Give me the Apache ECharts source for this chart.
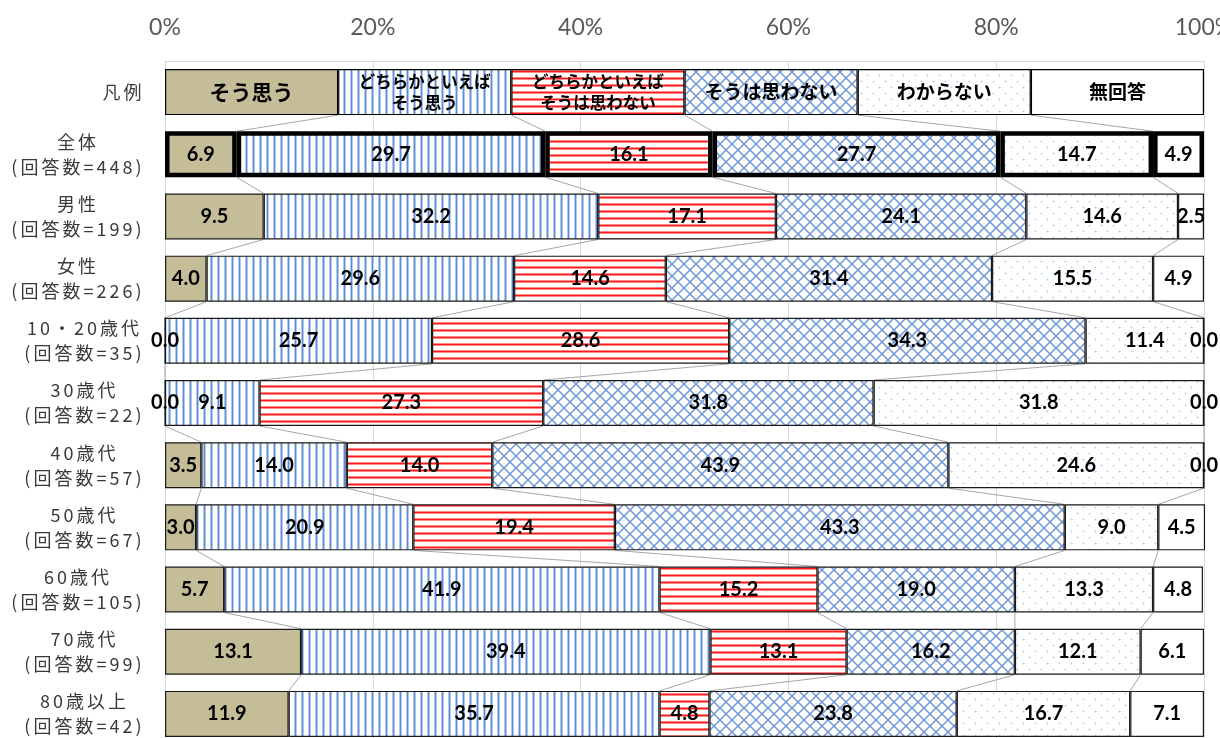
<!DOCTYPE html>
<html>
<head>
<meta charset="utf-8">
<script src="https://cdn.jsdelivr.net/npm/echarts@6/dist/echarts.min.js"></script>
<style>
  html, body { margin: 0; padding: 0; background: #fff; }
  #chart { width: 1220px; height: 738px; }
</style>
</head>
<body>
<div id="chart"></div>
<script>
// Row labels (top to bottom); the first row is the legend row.
const categories = [
  '凡例',
  '全体\n(回答数=448)',
  '男性\n(回答数=199)',
  '女性\n(回答数=226)',
  '10・20歳代\n(回答数=35)',
  '30歳代\n(回答数=22)',
  '40歳代\n(回答数=57)',
  '50歳代\n(回答数=67)',
  '60歳代\n(回答数=105)',
  '70歳代\n(回答数=99)',
  '80歳以上\n(回答数=42)'
];

const seriesNames = [
  'そう思う',
  'どちらかといえばそう思う',
  'どちらかといえばそうは思わない',
  'そうは思わない',
  'わからない',
  '無回答'
];

// Percentages per answer, for 全体 … 80歳以上
const agree            = [6.9, 9.5, 4.0, 0.0, 0.0, 3.5, 3.0, 5.7, 13.1, 11.9];
const somewhatAgree    = [29.7, 32.2, 29.6, 25.7, 9.1, 14.0, 20.9, 41.9, 39.4, 35.7];
const somewhatDisagree = [16.1, 17.1, 14.6, 28.6, 27.3, 14.0, 19.4, 15.2, 13.1, 4.8];
const disagree         = [27.7, 24.1, 31.4, 34.3, 31.8, 43.9, 43.3, 19.0, 16.2, 23.8];
const dontKnow         = [14.7, 14.6, 15.5, 11.4, 31.8, 24.6, 9.0, 13.3, 12.1, 16.7];
const noAnswer         = [4.9, 2.5, 4.9, 0.0, 0.0, 0.0, 4.5, 4.8, 6.1, 7.1];

const xTicks = [0, 20, 40, 60, 80, 100];

const seriesValues = [agree, somewhatAgree, somewhatDisagree, disagree, dontKnow, noAnswer];

// The legend row splits the axis evenly between the six answers.
const legendCell = 100 / seriesNames.length;

const BAR = 46;
const NUM_FONT = 'Lato, "Noto Sans CJK JP", sans-serif';
const JP_FONT = '"Noto Sans CJK JP", sans-serif';

function pattern(w, h, draw) {
  const c = document.createElement('canvas');
  c.width = w; c.height = h;
  const ctx = c.getContext('2d');
  ctx.fillStyle = '#ffffff';
  ctx.fillRect(0, 0, w, h);
  draw(ctx);
  return { image: c, repeat: 'repeat' };
}

const fills = [
  '#C4BD97',
  // vertical blue stripes
  pattern(7, 8, ctx => {
    ctx.fillStyle = '#B3CAEC'; ctx.fillRect(0, 0, 1, 8); ctx.fillRect(2, 0, 1, 8);
    ctx.fillStyle = '#5D8CD3'; ctx.fillRect(1, 0, 1, 8);
  }),
  // horizontal red stripes
  pattern(8, 7, ctx => {
    ctx.fillStyle = '#FF8A8A'; ctx.fillRect(0, 0, 8, 1); ctx.fillRect(0, 2, 8, 1);
    ctx.fillStyle = '#FF1A1A'; ctx.fillRect(0, 1, 8, 1);
  }),
  // blue diagonal lattice
  pattern(12, 12, ctx => {
    ctx.strokeStyle = '#6F96D5';
    ctx.lineWidth = 1.5;
    ctx.beginPath();
    ctx.moveTo(-1, -1); ctx.lineTo(13, 13);
    ctx.moveTo(13, -1); ctx.lineTo(-1, 13);
    ctx.stroke();
  }),
  // light blue dots
  pattern(12, 12, ctx => {
    ctx.fillStyle = '#DCEBF7';
    ctx.fillRect(2, 3, 3, 1); ctx.fillRect(3, 2, 1, 3);
    ctx.fillRect(8, 9, 3, 1); ctx.fillRect(9, 8, 1, 3);
    ctx.fillStyle = '#A8D0EE';
    ctx.fillRect(3, 3, 1, 1); ctx.fillRect(9, 9, 1, 1);
  }),
  '#ffffff'
];

// Legend-row caption style per answer
function legendLabel(name) {
  const twoLine = name.startsWith('どちらかといえば') && name.length > 8;
  return {
    formatter: twoLine ? name.replace('どちらかといえば', 'どちらかといえば\n') : name,
    fontFamily: JP_FONT,
    fontWeight: 'bold',
    fontSize: twoLine ? 16.5 : (name === 'そう思う' ? 21 : 19),
    lineHeight: twoLine ? 21 : 24,
    color: '#000'
  };
}

const barSeries = seriesNames.map((name, s) => ({
  name,
  type: 'bar',
  stack: 'total',
  barWidth: BAR,
  clip: false,
  z: 3,
  itemStyle: { color: fills[s], borderColor: '#1a1a1a', borderWidth: 1.2 },
  label: {
    show: true,
    position: 'inside',
    color: '#000',
    fontFamily: NUM_FONT,
    fontWeight: 'bold',
    fontSize: 20,
    formatter: p => Number(p.value).toFixed(1)
  },
  data: [
    { value: legendCell, label: legendLabel(name), itemStyle: { borderColor: '#000', borderWidth: 1.2 } },
    ...seriesValues[s].map((v, i) => i === 0
      ? { value: v, itemStyle: { borderColor: '#000', borderWidth: 4.5 } }
      : v)
  ]
}));

// Series lines joining the segment boundaries of neighbouring rows
function rowShares(r) {
  return r === 0 ? seriesNames.map(() => legendCell) : seriesValues.map(arr => arr[r - 1]);
}
function cumulative(r) {
  let acc = 0;
  return rowShares(r).map(v => (acc += v));
}
const joinData = [];
for (let r = 0; r < categories.length - 1; r++) {
  const a = cumulative(r), b = cumulative(r + 1);
  for (let k = 0; k < seriesNames.length - 1; k++) joinData.push([a[k], r, b[k]]);
}

const joinSeries = {
  type: 'custom',
  z: 1,
  silent: true,
  encode: { x: 0, y: 1 },
  data: joinData,
  renderItem: (params, api) => {
    const r = api.value(1);
    const p1 = api.coord([api.value(0), r]);
    const p2 = api.coord([api.value(2), r + 1]);
    return {
      type: 'line',
      shape: { x1: p1[0], y1: p1[1] + BAR / 2, x2: p2[0], y2: p2[1] - BAR / 2 },
      style: { stroke: '#A6A6A6', lineWidth: 1 }
    };
  }
};

const chart = echarts.init(document.getElementById('chart'));
chart.setOption({
  animation: false,
  backgroundColor: '#fff',
  grid: { left: 165, right: 16, top: 61, height: 684, outerBoundsMode: 'none', containLabel: false },
  xAxis: {
    type: 'value',
    position: 'top',
    min: xTicks[0],
    max: xTicks[xTicks.length - 1],
    interval: xTicks[1] - xTicks[0],
    axisLine: { show: true, lineStyle: { color: '#D9D9D9', width: 1 } },
    axisTick: { show: false },
    splitLine: { show: true, lineStyle: { color: '#D9D9D9', width: 1 } },
    axisLabel: {
      formatter: '{value}%',
      color: '#595959',
      fontFamily: NUM_FONT,
      fontSize: 23,
      margin: 22
    }
  },
  yAxis: {
    type: 'category',
    inverse: true,
    data: categories,
    axisLine: { show: true, lineStyle: { color: '#D9D9D9', width: 1 } },
    axisTick: { show: false },
    axisLabel: {
      align: 'right',
      margin: 22,
      formatter: v => v.split('\n')
        .map(line => Array.from(line).map(ch => '{c|' + ch + '}').join(''))
        .join('\n'),
      rich: {
        c: {
          fontFamily: JP_FONT,
          fontSize: 18,
          color: '#3A3A3A',
          padding: [0, 1.5, 0, 1.5],
          lineHeight: 25,
          align: 'center'
        }
      }
    }
  },
  series: [joinSeries, ...barSeries]
});
</script>
</body>
</html>
